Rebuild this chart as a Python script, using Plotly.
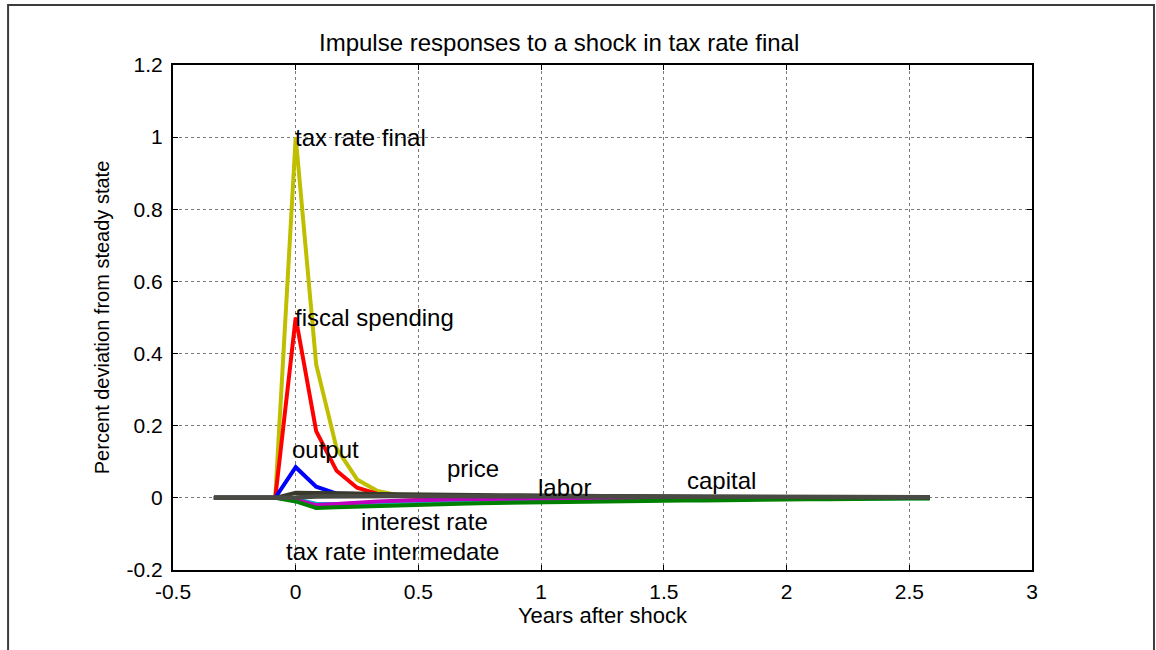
import plotly.graph_objects as go

# time index (months after shock) -> years
months = list(range(-4, 32))
years = [m / 12 for m in months]

pre = [0, 0, 0, 0]  # months -4..-1

tax_rate_final = pre + [1.0, 0.37, 0.137, 0.051, 0.019, 0.007, 0.003, 0.001,
                        0, 0, 0, 0, 0, 0, 0, 0, 0, 0, 0, 0, 0, 0, 0, 0, 0, 0, 0, 0, 0, 0, 0, 0]
fiscal_spending = pre + [0.5, 0.185, 0.075, 0.028, 0.011, 0.005, 0.003, 0.002,
                         0.001, 0.001, 0.001, 0, 0, 0, 0, 0, 0, 0, 0, 0, 0, 0, 0, 0, 0, 0, 0, 0, 0, 0, 0, 0]
output = pre + [0.085, 0.031, 0.012, 0.010, 0.009, 0.008, 0.007, 0.006,
                0.006, 0.005, 0.005, 0.004, 0.004, 0.004, 0.003, 0.003, 0.003, 0.003, 0.002, 0.002,
                0.002, 0.002, 0.002, 0.002, 0.001, 0.001, 0.001, 0.001, 0.001, 0.001, 0.001, 0.001]
price = pre + [0.014, 0.014, 0.013, 0.012, 0.011, 0.010, 0.009, 0.009,
               0.008, 0.008, 0.007, 0.007, 0.006, 0.006, 0.005, 0.005, 0.005, 0.004, 0.004, 0.004,
               0.003, 0.003, 0.003, 0.003, 0.002, 0.002, 0.002, 0.002, 0.002, 0.002, 0.001, 0.001]
labor = pre + [-0.010, -0.028, -0.026, -0.024, -0.022, -0.020, -0.019, -0.018,
               -0.016, -0.015, -0.014, -0.013, -0.012, -0.011, -0.010, -0.010, -0.009, -0.008, -0.008, -0.007,
               -0.007, -0.006, -0.005, -0.005, -0.004, -0.004, -0.004, -0.003, -0.003, -0.003, -0.002, -0.002]
interest_rate = pre + [-0.005, -0.020, -0.017, -0.013, -0.010, -0.008, -0.006, -0.005,
                       -0.004, -0.003, -0.003, -0.002, -0.002, -0.002, -0.002, -0.001, -0.001, -0.001, -0.001, -0.001,
                       -0.001, -0.001, -0.001, 0, 0, 0, 0, 0, 0, 0, 0, 0]
tax_rate_intermediate = pre + [-0.004, -0.016, -0.017, -0.016, -0.015, -0.014, -0.013, -0.012,
                               -0.011, -0.010, -0.009, -0.008, -0.007, -0.006, -0.006, -0.005, -0.005, -0.004, -0.004, -0.003,
                               -0.003, -0.003, -0.002, -0.002, -0.002, -0.002, -0.001, -0.001, -0.001, -0.001, -0.001, -0.001]
capital = pre + [0.001, 0.004, 0.005, 0.005, 0.005, 0.005, 0.005, 0.005,
                 0.004, 0.004, 0.004, 0.004, 0.004, 0.004, 0.003, 0.003, 0.003, 0.003, 0.003, 0.003,
                 0.003, 0.002, 0.002, 0.002, 0.002, 0.002, 0.002, 0.002, 0.002, 0.002, 0.002, 0.002]

series = [
    ("tax rate final", tax_rate_final, "#bfbf00", 4),
    ("fiscal spending", fiscal_spending, "#ff0000", 4),
    ("output", output, "#0000ff", 4),
    ("tax rate intermedate", tax_rate_intermediate, "#00bfbf", 4),
    ("interest rate", interest_rate, "#bf00bf", 4),
    ("labor", labor, "#008000", 4),
    ("price", price, "#3a3a2a", 4),
    ("capital", capital, "#4a4a44", 4.5),
]

# label placement (data coordinates)
label_text = ["tax rate final", "fiscal spending", "output", "price", "labor",
              "capital", "interest rate", "tax rate intermedate"]
label_x = [0.0, 0.0, -0.01, 0.62, 0.99, 1.6, 0.27, -0.035]
label_y = [1.0, 0.5, 0.135, 0.082, 0.03, 0.048, -0.065, -0.148]

x_ticks = [-0.5, 0, 0.5, 1, 1.5, 2, 2.5, 3]
x_ticktext = ["-0.5", "0", "0.5", "1", "1.5", "2", "2.5", "3"]
y_ticks = [-0.2, 0, 0.2, 0.4, 0.6, 0.8, 1.0, 1.2]
y_ticktext = ["-0.2", "0", "0.2", "0.4", "0.6", "0.8", "1", "1.2"]

FONT = "Liberation Sans, Arial, sans-serif"

fig = go.Figure()
for name, vals, col, w in series:
    fig.add_trace(go.Scatter(x=years, y=vals, mode="lines", name=name,
                             line=dict(color=col, width=w), showlegend=False,
                             hoverinfo="skip"))

for t, xx, yy in zip(label_text, label_x, label_y):
    fig.add_annotation(x=xx, y=yy, xref="x", yref="y", text=t, showarrow=False,
                       xanchor="left", yanchor="middle", xshift=-3,
                       font=dict(family=FONT, size=24, color="black"))

fig.add_annotation(x=0.449, y=1.044, xref="paper", yref="paper",
                   text="Impulse responses to a shock in tax rate final",
                   showarrow=False, xanchor="center", yanchor="middle",
                   font=dict(family=FONT, size=24, color="black"))

# outer figure border
fig.add_shape(type="rect", xref="paper", yref="paper",
              x0=-0.192, x1=1.142, y0=-0.25, y1=1.119,
              line=dict(color="#3c3c3c", width=2), fillcolor="rgba(0,0,0,0)",
              layer="below")

axis_common = dict(showline=True, linecolor="black", linewidth=2, mirror="allticks",
                   ticks="inside", ticklen=5, tickwidth=1, tickcolor="black",
                   showgrid=True, gridcolor="#7a7a7a", gridwidth=1, griddash="dot",
                   zeroline=False, tickfont=dict(family=FONT, size=21, color="black"))

fig.update_layout(
    width=1156, height=650,
    margin=dict(l=173, r=124, t=65, b=80),
    paper_bgcolor="white", plot_bgcolor="white",
    xaxis=dict(range=[-0.5, 3], tickvals=x_ticks, ticktext=x_ticktext,
               ticklabelstandoff=2,
               title=dict(text="Years after shock", standoff=0,
                          font=dict(family=FONT, size=22, color="black")),
               **axis_common),
    yaxis=dict(range=[-0.2, 1.2], tickvals=y_ticks, ticktext=y_ticktext,
               ticklabelstandoff=4,
               title=dict(text="Percent deviation from steady state", standoff=12,
                          font=dict(family="Liberation Sans Narrow, Arial Narrow, Liberation Sans, sans-serif",
                                    size=20, color="black")),
               **axis_common),
)

fig.write_html("out.html")
